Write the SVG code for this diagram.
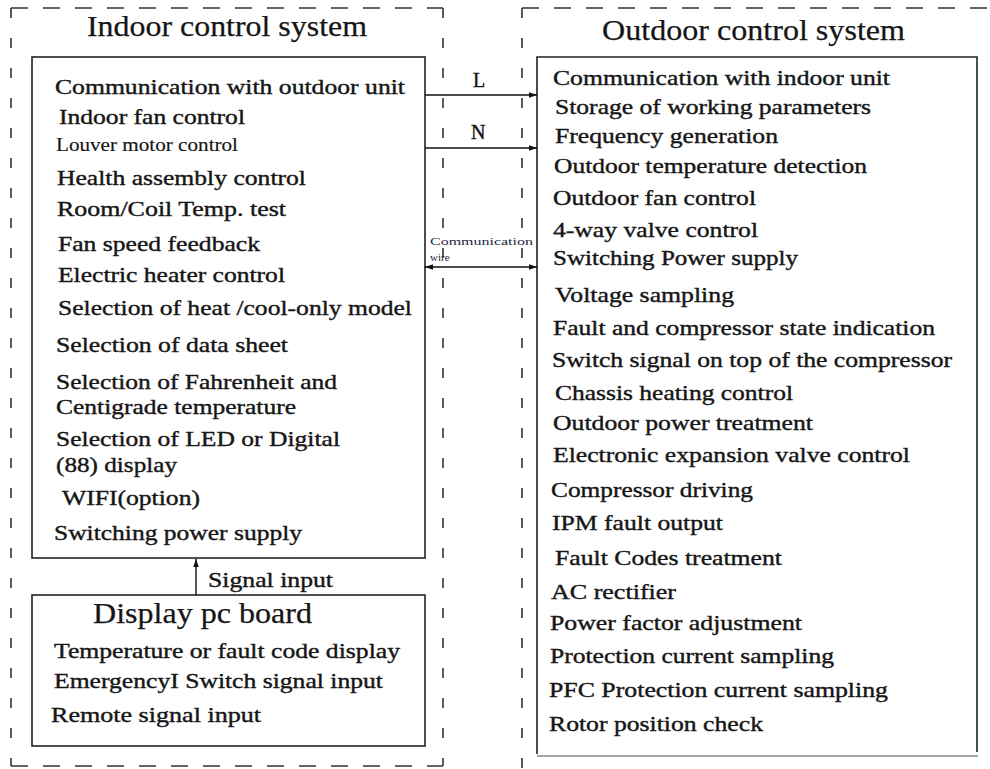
<svg xmlns="http://www.w3.org/2000/svg" width="990" height="769" viewBox="0 0 990 769" font-family="'Liberation Serif','Times New Roman',serif">
<defs>
<style>
text{font-family:"Liberation Serif","Times New Roman",serif;fill:#161616}
.t{font-size:22px;stroke:#161616;stroke-width:0.4}
.sm{font-size:18px;stroke:#161616;stroke-width:0.15}
.h{font-size:30px;stroke:#161616;stroke-width:0.25}
.lbl{font-size:20px;stroke:#161616;stroke-width:0.4}
.tiny{font-size:11px;fill:#1d2740}
.box{fill:#fff;stroke:#222;stroke-width:1.6}
.dh{stroke:#333;stroke-width:1.6;stroke-dasharray:17 15;fill:none}
.dv{stroke:#333;stroke-width:1.6;stroke-dasharray:10 20;fill:none}
.ln{stroke:#111;stroke-width:1.4;fill:none}
</style>
<marker id="ah" viewBox="0 0 10 10" refX="10" refY="5" markerWidth="12" markerHeight="8" markerUnits="userSpaceOnUse" orient="auto-start-reverse">
<path d="M0,1.5 L10,5 L0,8.5 Z" fill="#111"/>
</marker>
</defs>
<rect width="990" height="769" fill="#fff"/>

<g id="indoor-system">
<path class="dh" d="M11,8 H443"/>
<path class="dh" d="M11,766 H443"/>
<path class="dv" d="M11,8 V766"/>
<path class="dv" d="M443,8 V766"/>
<text class="h" x="87" y="36" textLength="280" lengthAdjust="spacingAndGlyphs">Indoor control system</text>
</g>

<g id="outdoor-system">
<path class="dh" d="M522,8 H990"/>
<path class="dv" d="M522,8 V769"/>
<text class="h" x="602" y="40" textLength="303" lengthAdjust="spacingAndGlyphs">Outdoor control system</text>
</g>

<g id="indoor-board">
<rect class="box" x="32" y="57" width="393" height="501"/>
<text class="t" x="55" y="94" textLength="350" lengthAdjust="spacingAndGlyphs">Communication with outdoor unit</text>
<text class="t" x="59" y="124" textLength="186" lengthAdjust="spacingAndGlyphs">Indoor fan control</text>
<text class="sm" x="56" y="151" textLength="182" lengthAdjust="spacingAndGlyphs">Louver motor control</text>
<text class="t" x="57" y="185" textLength="249" lengthAdjust="spacingAndGlyphs">Health assembly control</text>
<text class="t" x="57" y="216" textLength="229" lengthAdjust="spacingAndGlyphs">Room/Coil Temp. test</text>
<text class="t" x="58" y="251" textLength="202" lengthAdjust="spacingAndGlyphs">Fan speed feedback</text>
<text class="t" x="58" y="282" textLength="227" lengthAdjust="spacingAndGlyphs">Electric heater control</text>
<text class="t" x="58" y="315" textLength="354" lengthAdjust="spacingAndGlyphs">Selection of heat /cool-only model</text>
<text class="t" x="56" y="352" textLength="232" lengthAdjust="spacingAndGlyphs">Selection of data sheet</text>
<text class="t" x="56" y="389" textLength="281" lengthAdjust="spacingAndGlyphs">Selection of Fahrenheit and</text>
<text class="t" x="56" y="414" textLength="240" lengthAdjust="spacingAndGlyphs">Centigrade temperature</text>
<text class="t" x="56" y="446" textLength="284" lengthAdjust="spacingAndGlyphs">Selection of LED or Digital</text>
<text class="t" x="56" y="472" textLength="121" lengthAdjust="spacingAndGlyphs">(88) display</text>
<text class="t" x="62" y="505" textLength="138" lengthAdjust="spacingAndGlyphs">WIFI(option)</text>
<text class="t" x="54" y="540" textLength="248" lengthAdjust="spacingAndGlyphs">Switching power supply</text>
</g>

<g id="display-board">
<rect class="box" x="32" y="595" width="393" height="151"/>
<text class="h" x="93" y="623" textLength="219" lengthAdjust="spacingAndGlyphs">Display pc board</text>
<text class="t" x="54" y="658" textLength="346" lengthAdjust="spacingAndGlyphs">Temperature or fault code display</text>
<text class="t" x="54" y="688" textLength="329" lengthAdjust="spacingAndGlyphs">EmergencyI Switch signal input</text>
<text class="t" x="51" y="722" textLength="210" lengthAdjust="spacingAndGlyphs">Remote signal input</text>
</g>

<g id="outdoor-board">
<rect x="537" y="57" width="440" height="699" fill="#fff"/>
<path d="M537,754 V57 H977 V752" fill="none" stroke="#222" stroke-width="1.6"/>
<line x1="537" y1="756" x2="978" y2="756" stroke="#888" stroke-width="1.6"/>
<text class="t" x="553" y="85" textLength="337" lengthAdjust="spacingAndGlyphs">Communication with indoor unit</text>
<text class="t" x="555" y="114" textLength="316" lengthAdjust="spacingAndGlyphs">Storage of working parameters</text>
<text class="t" x="555" y="143" textLength="223" lengthAdjust="spacingAndGlyphs">Frequency generation</text>
<text class="t" x="554" y="173" textLength="313" lengthAdjust="spacingAndGlyphs">Outdoor temperature detection</text>
<text class="t" x="553" y="205" textLength="203" lengthAdjust="spacingAndGlyphs">Outdoor fan control</text>
<text class="t" x="553" y="237" textLength="205" lengthAdjust="spacingAndGlyphs">4-way valve control</text>
<text class="t" x="553" y="265" textLength="245" lengthAdjust="spacingAndGlyphs">Switching Power supply</text>
<text class="t" x="555" y="302" textLength="179" lengthAdjust="spacingAndGlyphs">Voltage sampling</text>
<text class="t" x="553" y="335" textLength="382" lengthAdjust="spacingAndGlyphs">Fault and compressor state indication</text>
<text class="t" x="552" y="367" textLength="400" lengthAdjust="spacingAndGlyphs">Switch signal on top of the compressor</text>
<text class="t" x="555" y="400" textLength="238" lengthAdjust="spacingAndGlyphs">Chassis heating control</text>
<text class="t" x="553" y="430" textLength="260" lengthAdjust="spacingAndGlyphs">Outdoor power treatment</text>
<text class="t" x="553" y="462" textLength="357" lengthAdjust="spacingAndGlyphs">Electronic expansion valve control</text>
<text class="t" x="551" y="497" textLength="202" lengthAdjust="spacingAndGlyphs">Compressor driving</text>
<text class="t" x="552" y="530" textLength="171" lengthAdjust="spacingAndGlyphs">IPM fault output</text>
<text class="t" x="555" y="565" textLength="227" lengthAdjust="spacingAndGlyphs">Fault Codes treatment</text>
<text class="t" x="551" y="599" textLength="125" lengthAdjust="spacingAndGlyphs">AC rectifier</text>
<text class="t" x="550" y="630" textLength="252" lengthAdjust="spacingAndGlyphs">Power factor adjustment</text>
<text class="t" x="550" y="663" textLength="284" lengthAdjust="spacingAndGlyphs">Protection current sampling</text>
<text class="t" x="549" y="697" textLength="339" lengthAdjust="spacingAndGlyphs">PFC Protection current sampling</text>
<text class="t" x="549" y="731" textLength="214" lengthAdjust="spacingAndGlyphs">Rotor position check</text>
</g>

<g id="connectors">
<line class="ln" x1="425" y1="95" x2="537" y2="95" marker-end="url(#ah)"/>
<text class="lbl" x="473" y="87">L</text>
<line class="ln" x1="425" y1="148" x2="537" y2="148" marker-end="url(#ah)"/>
<text class="lbl" x="471" y="139">N</text>
<line class="ln" x1="425" y1="267" x2="537" y2="267" marker-start="url(#ah)" marker-end="url(#ah)"/>
<text class="tiny" x="430" y="245" textLength="103" lengthAdjust="spacingAndGlyphs">Communication</text>
<text class="tiny" x="430" y="261">wire</text>
<line class="ln" x1="196" y1="595" x2="196" y2="559" marker-end="url(#ah)"/>
<text class="t" x="208" y="587" textLength="125" lengthAdjust="spacingAndGlyphs">Signal input</text>
</g>
</svg>
